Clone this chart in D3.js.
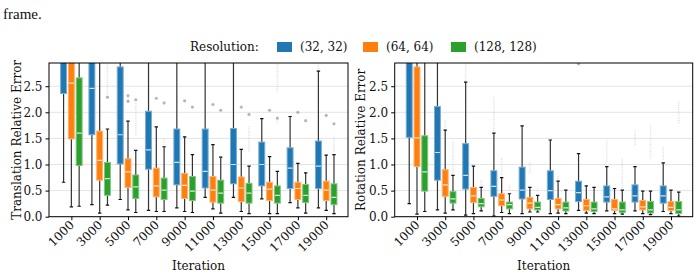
<!DOCTYPE html>
<html>
<head>
<meta charset="utf-8">
<script src="https://cdn.jsdelivr.net/npm/d3@7"></script>
<style>
    body { margin: 0; background: #fff; }
    svg text { font-family: "DejaVu Serif", serif; fill: #111; }
</style>
</head>
<body>
<div class="canvas"></div>
<script>
// Categories
const iterations = [1000, 3000, 5000, 7000, 9000, 11000, 13000, 15000, 17000, 19000];
const resolutions = ['(32, 32)', '(64, 64)', '(128, 128)'];
const colors = ['#1f77b4', '#ff7f0e', '#2ca02c'];
const yTicks = [0, 0.5, 1, 1.5, 2, 2.5];

// Boxes: [lower whisker, q1, median, q3, upper whisker]
const translation32 = [
    [0.66, 2.36, 3.10, 3.50, 4.50], [0.23, 1.57, 2.46, 3.20, 4.20], [0.33, 1.01, 1.57, 2.87, 4.00],
    [0.12, 0.91, 1.28, 2.02, 3.50], [0.17, 0.61, 1.04, 1.68, 3.20], [0.37, 0.55, 0.87, 1.68, 3.20],
    [0.37, 0.63, 1.00, 1.69, 3.20], [0.34, 0.59, 1.00, 1.43, 1.88], [0.27, 0.54, 0.93, 1.32, 1.92],
    [0.17, 0.54, 0.97, 1.45, 2.79]
];
const translation64 = [
    [0.19, 1.49, 2.56, 3.20, 4.00], [0.07, 0.70, 1.08, 1.64, 3.50], [0.13, 0.56, 0.86, 1.11, 1.83],
    [0.10, 0.38, 0.59, 0.93, 1.72], [0.10, 0.35, 0.60, 0.83, 1.53], [0.15, 0.28, 0.51, 0.77, 1.38],
    [0.10, 0.29, 0.55, 0.76, 1.29], [0.06, 0.31, 0.53, 0.66, 1.15], [0.17, 0.33, 0.54, 0.66, 1.02],
    [0.12, 0.31, 0.51, 0.68, 1.18]
];
const translation128 = [
    [0.20, 0.98, 1.60, 2.66, 3.50], [0.22, 0.41, 0.73, 1.04, 1.68], [0.08, 0.35, 0.57, 0.80, 1.27],
    [0.10, 0.33, 0.51, 0.74, 1.34], [0.08, 0.31, 0.49, 0.77, 1.19], [0.07, 0.26, 0.45, 0.70, 1.14],
    [0.06, 0.26, 0.45, 0.64, 0.97], [0.06, 0.26, 0.41, 0.59, 0.87], [0.07, 0.27, 0.41, 0.62, 0.84],
    [0.06, 0.23, 0.37, 0.63, 1.19]
];
const rotation32 = [
    [0.25, 1.52, 3.10, 3.50, 4.50], [0.13, 0.70, 1.23, 2.11, 3.50], [0.03, 0.53, 0.79, 1.40, 2.58],
    [0.01, 0.39, 0.58, 0.88, 1.60], [0.06, 0.34, 0.51, 0.95, 1.74], [0.06, 0.33, 0.50, 0.88, 1.47],
    [0.12, 0.29, 0.46, 0.68, 1.21], [0.11, 0.28, 0.38, 0.59, 0.96], [0.11, 0.28, 0.40, 0.61, 0.96],
    [0.10, 0.26, 0.40, 0.59, 1.03]
];
const rotation64 = [
    [0.05, 0.96, 1.51, 2.87, 4.00], [0.07, 0.39, 0.61, 0.90, 1.66], [0.06, 0.27, 0.40, 0.56, 0.97],
    [0.08, 0.21, 0.32, 0.44, 0.75], [0.09, 0.15, 0.26, 0.37, 0.56], [0.07, 0.15, 0.23, 0.35, 0.68],
    [0.07, 0.12, 0.21, 0.33, 0.59], [0.06, 0.12, 0.15, 0.33, 0.54], [0.06, 0.13, 0.19, 0.31, 0.49],
    [0.06, 0.12, 0.18, 0.29, 0.51]
];
const rotation128 = [
    [0.10, 0.49, 0.86, 1.55, 3.50], [0.13, 0.26, 0.34, 0.48, 0.79], [0.11, 0.19, 0.25, 0.35, 0.56],
    [0.06, 0.15, 0.23, 0.28, 0.44], [0.09, 0.13, 0.18, 0.28, 0.41], [0.06, 0.11, 0.17, 0.28, 0.51],
    [0.06, 0.10, 0.15, 0.28, 0.56], [0.05, 0.08, 0.13, 0.28, 0.51], [0.04, 0.07, 0.13, 0.29, 0.49],
    [0.01, 0.06, 0.13, 0.29, 0.47]
];

// Outliers: [resolution index, iteration index, value]
const translationFliers = [
    [1, 2, 2.32], [1, 2, 2.21], [2, 1, 2.29], [2, 2, 2.24], [1, 3, 2.27], [2, 3, 2.18],
    [1, 4, 2.22], [2, 4, 2.10], [1, 5, 2.15], [2, 5, 2.04], [1, 6, 2.10], [2, 6, 1.96],
    [1, 7, 2.04], [2, 7, 1.89], [1, 8, 2.00], [2, 8, 1.84], [1, 9, 1.94], [2, 9, 1.78]
];
const rotationFliers = [[0, 6, 2.93]];

// Faint outlier streaks: [resolution index, iteration index, from, to]
const translationStreaks = [
    [2, 1, 2.35, 2.95], [1, 2, 2.20, 2.32], [2, 2, 1.57, 2.20], [2, 3, 1.38, 1.50],
    [2, 6, 1.25, 1.75], [2, 7, 2.40, 2.95], [2, 7, 1.80, 1.89], [0, 9, 2.79, 2.95], [2, 9, 1.25, 1.55]
];
const rotationStreaks = [
    [0, 2, 2.60, 2.95], [0, 3, 1.60, 2.29], [0, 7, 1.06, 1.48], [0, 8, 1.38, 1.67], [0, 9, 1.09, 1.35],
    [1, 1, 1.66, 1.86], [1, 3, 0.75, 1.14], [1, 4, 0.84, 1.06], [1, 5, 0.68, 0.80],
    [2, 1, 0.79, 1.44], [2, 2, 0.56, 0.71], [2, 3, 0.52, 0.61], [2, 4, 0.49, 0.55],
    [2, 7, 0.55, 1.12], [2, 8, 1.12, 1.76], [2, 9, 1.79, 2.22]
];

const app = {
    dims: { width: 700, height: 278, top: 63, bottom: 216.7 },
    svg: null,

    init: function() {
        app.svg = d3.select('.canvas')
            .append('svg')
            .attr('width', app.dims.width)
            .attr('height', app.dims.height);

        // Caption fragment above the figure
        app.svg.append('text')
            .attr('x', 3).attr('y', 19)
            .style('font-family', '"Liberation Serif", serif')
            .style('font-size', '15px')
            .text('frame.');

        app.drawLegend();

        app.drawPanel({
            id: 'trans', left: 49, right: 348, label: 'Translation Relative Error', labelX: 21,
            boxes: [translation32, translation64, translation128],
            fliers: translationFliers, streaks: translationStreaks
        });
        app.drawPanel({
            id: 'rot', left: 394.7, right: 692.7, label: 'Rotation Relative Error', labelX: 365,
            boxes: [rotation32, rotation64, rotation128],
            fliers: rotationFliers, streaks: rotationStreaks
        });
    },

    drawLegend: function() {
        const g = app.svg.append('g').attr('transform', 'translate(0, 47)');
        g.append('text')
            .attr('x', 190).attr('dy', '0.35em')
            .style('font-size', '12px')
            .text('Resolution:');

        const xs = [277, 363, 451];
        resolutions.forEach((r, i) => {
            g.append('rect')
                .attr('x', xs[i]).attr('y', -5)
                .attr('width', 15).attr('height', 10)
                .attr('fill', colors[i]);
            g.append('text')
                .attr('x', xs[i] + 23).attr('dy', '0.35em')
                .style('font-size', '12px')
                .text(r);
        });
    },

    drawPanel: function(p) {
        const x = d3.scaleLinear().domain([-0.79, 9.77]).range([p.left, p.right]);
        const y = d3.scaleLinear().domain([0, 2.945]).range([app.dims.bottom, app.dims.top]);
        const unit = x(1) - x(0);
        const offsets = [-0.275, 0, 0.275];
        const boxW = 0.21 * unit;

        const g = app.svg.append('g');

        g.append('clipPath').attr('id', 'clip-' + p.id)
            .append('rect')
            .attr('x', p.left).attr('y', app.dims.top)
            .attr('width', p.right - p.left).attr('height', app.dims.bottom - app.dims.top);

        // Grid
        g.selectAll('.grid')
            .data(yTicks)
            .enter()
            .append('line')
            .attr('x1', p.left).attr('x2', p.right)
            .attr('y1', d => y(d)).attr('y2', d => y(d))
            .attr('stroke', '#e4e4e4')
            .attr('stroke-width', 1);

        const plot = g.append('g').attr('clip-path', `url(#clip-${p.id})`);

        // Streaks of overlapping outliers
        plot.selectAll('.streak')
            .data(p.streaks)
            .enter()
            .append('line')
            .attr('x1', d => x(d[1] + offsets[d[0]])).attr('x2', d => x(d[1] + offsets[d[0]]))
            .attr('y1', d => y(d[2])).attr('y2', d => y(d[3]))
            .attr('stroke', '#bbb')
            .attr('stroke-opacity', 0.45)
            .attr('stroke-width', 1.6)
            .attr('stroke-dasharray', '1,1.2');

        // Boxes
        p.boxes.forEach((series, r) => {
            const col = colors[r];
            const edge = d3.interpolateRgb(col, '#fff')(0.4);
            const med = d3.interpolateRgb(col, '#fff')(0.8);

            const box = plot.selectAll('.box-' + r)
                .data(series)
                .enter()
                .append('g')
                .attr('transform', (d, i) => `translate(${x(i + offsets[r])}, 0)`);

            box.append('line')
                .attr('y1', d => y(d[0])).attr('y2', d => y(d[1]))
                .attr('stroke', '#333').attr('stroke-width', 1.2);
            box.append('line')
                .attr('y1', d => y(d[3])).attr('y2', d => y(d[4]))
                .attr('stroke', '#333').attr('stroke-width', 1.2);
            [0, 4].forEach(k => {
                box.append('line')
                    .attr('x1', -1.7).attr('x2', 1.7)
                    .attr('y1', d => y(d[k])).attr('y2', d => y(d[k]))
                    .attr('stroke', '#111').attr('stroke-width', 1.2);
            });
            box.append('rect')
                .attr('x', -boxW / 2)
                .attr('y', d => y(d[3]))
                .attr('width', boxW)
                .attr('height', d => y(d[1]) - y(d[3]))
                .attr('fill', col)
                .attr('stroke', edge)
                .attr('stroke-width', 1);
            box.append('line')
                .attr('x1', -boxW / 2 + 0.5).attr('x2', boxW / 2 - 0.5)
                .attr('y1', d => y(d[2])).attr('y2', d => y(d[2]))
                .attr('stroke', med).attr('stroke-width', 1.2);
        });

        // Outliers
        plot.selectAll('.flier')
            .data(p.fliers)
            .enter()
            .append('circle')
            .attr('cx', d => x(d[1] + offsets[d[0]]))
            .attr('cy', d => y(d[2]))
            .attr('r', 1.6)
            .attr('fill', '#999')
            .attr('fill-opacity', 0.7);

        // Frame
        g.append('rect')
            .attr('x', p.left).attr('y', app.dims.top)
            .attr('width', p.right - p.left).attr('height', app.dims.bottom - app.dims.top)
            .attr('fill', 'none').attr('stroke', '#000').attr('stroke-width', 1);

        // Y axis
        const yAxis = g.append('g')
            .attr('transform', `translate(${p.left}, 0)`)
            .call(d3.axisLeft(y).tickValues(yTicks).tickFormat(d3.format('.1f')).tickSize(3.5).tickPadding(3));
        yAxis.select('.domain').remove();
        yAxis.selectAll('text').style('font-size', '12px').style('font-family', '"DejaVu Serif", serif');

        // X axis
        const xAxis = g.append('g')
            .attr('transform', `translate(0, ${app.dims.bottom})`)
            .call(d3.axisBottom(x).tickValues(d3.range(iterations.length)).tickFormat(i => iterations[i]).tickSize(3.5));
        xAxis.select('.domain').remove();
        xAxis.selectAll('text')
            .style('font-size', '12px')
            .style('font-family', '"DejaVu Serif", serif')
            .attr('text-anchor', 'end')
            .attr('dy', null)
            .attr('y', 0)
            .attr('transform', 'translate(3, 9) rotate(-45)');

        // Labels
        g.append('text')
            .attr('x', (p.left + p.right) / 2).attr('y', 270)
            .attr('text-anchor', 'middle')
            .style('font-size', '12px')
            .text('Iteration');
        g.append('text')
            .attr('transform', `translate(${p.labelX}, ${(app.dims.top + app.dims.bottom) / 2}) rotate(-90)`)
            .attr('text-anchor', 'middle')
            .style('font-size', '12px')
            .text(p.label);
    },
};

document.addEventListener('DOMContentLoaded', app.init);
</script>
</body>
</html>
